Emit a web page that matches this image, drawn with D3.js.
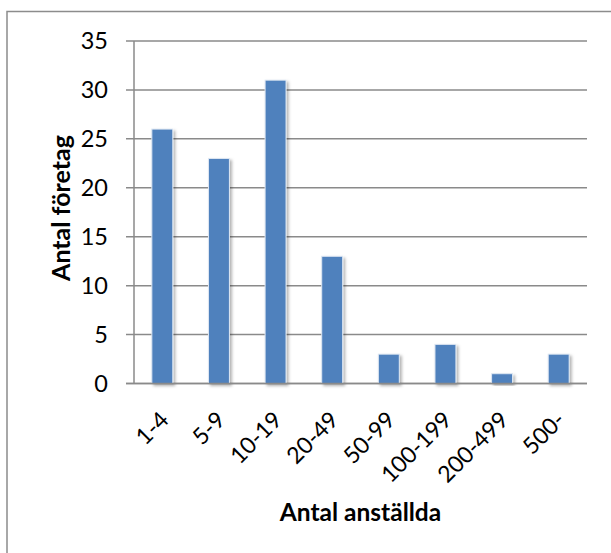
<!DOCTYPE html>
<html><head><meta charset="utf-8">
<script src="https://cdn.jsdelivr.net/npm/d3@7"></script>
<style>body{margin:0;background:#fff}</style>
</head><body>
<script>
const categories = ["1-4","5-9","10-19","20-49","50-99","100-199","200-499","500-"];
const values = [26,23,31,13,3,4,1,3];
const yTicks = [0,5,10,15,20,25,30,35];
const xTitle = "Antal anställda";
const yTitle = "Antal företag";

(function(){
const W = 611, H = 553;
const svg = d3.select("body").append("svg").attr("width", W).attr("height", H);
const defs = svg.append("defs");
const f = defs.append("filter").attr("id","sh").attr("x","-30%").attr("y","-10%").attr("width","170%").attr("height","130%");
f.append("feDropShadow").attr("dx",2).attr("dy",2).attr("stdDeviation",1.5).attr("flood-color","#000").attr("flood-opacity",0.3);

svg.append("rect").attr("x",7).attr("y",11.5).attr("width",640).attr("height",600)
  .attr("fill","#fff").attr("stroke","#8c8c8c").attr("stroke-width",1.5);

const pl = 134, pr = 587, pt = 41, pb = 383.5;
const x = d3.scaleBand().domain(categories).range([pl, pr]).paddingInner(0.63).paddingOuter(0.315);
const y = d3.scaleLinear().domain([0,35]).range([pb, pt]);
const font = "Lato, 'Open Sans', sans-serif";
const fs = 23;

svg.append("g").selectAll("line").data(yTicks).join("line")
  .attr("x1", pl-8).attr("x2", pr).attr("y1", d=>y(d)).attr("y2", d=>y(d))
  .attr("stroke","#8a8a8a").attr("stroke-width",1.5);
svg.append("line").attr("x1",pl).attr("x2",pl).attr("y1",pt).attr("y2",pb)
  .attr("stroke","#8a8a8a").attr("stroke-width",1.5);

svg.append("g").selectAll("text").data(yTicks).join("text")
  .attr("x", 108).attr("y", d=>y(d)).attr("dy","0.36em").attr("text-anchor","end")
  .attr("font-family",font).attr("font-size",fs+0.5).attr("fill","#000").text(d=>d);

svg.append("g").selectAll("rect").data(values).join("rect")
  .attr("x",(d,i)=>x(categories[i])).attr("width",x.bandwidth())
  .attr("y",d=>y(d)).attr("height",d=>y(0)-y(d))
  .attr("fill","#4f81bd").attr("stroke","#dfe8f3").attr("stroke-width",1)
  .attr("filter","url(#sh)");

svg.append("line").attr("x1",pl-8).attr("x2",pr).attr("y1",pb).attr("y2",pb)
  .attr("stroke","#8a8a8a").attr("stroke-width",1.5);

svg.append("g").selectAll("text").data(categories).join("text")
  .attr("transform", d=>`translate(${x(d)+x.bandwidth()/2+2},${pb+32}) rotate(-45)`)
  .attr("text-anchor","end").attr("dy","0.36em")
  .attr("font-family",font).attr("font-size",fs).attr("fill","#000").text(d=>d);

svg.append("text").attr("x",(pl+pr)/2).attr("y",521).attr("text-anchor","middle")
  .attr("font-family",font).attr("font-weight","bold").attr("font-size",24.5).text(xTitle);
svg.append("text").attr("transform",`translate(70,208) rotate(-90)`).attr("text-anchor","middle")
  .attr("font-family",font).attr("font-weight","bold").attr("font-size",25).text(yTitle);
})();
</script>
</body></html>
